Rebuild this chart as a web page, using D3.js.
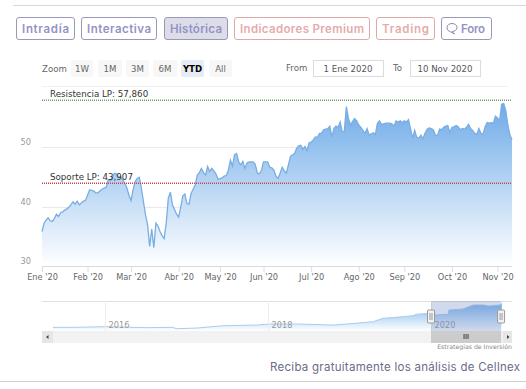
<!DOCTYPE html>
<html><head><meta charset="utf-8">
<script src="https://cdnjs.cloudflare.com/ajax/libs/d3/7.8.5/d3.min.js"></script>
<style>html,body{margin:0;padding:0;background:#fff}svg{display:block}</style>
</head><body><svg id="c" width="526" height="389"></svg>
<script>
// ---- data ----
const prices = [35.8,37.2,37.7,38.1,37.6,37.5,38.0,38.7,38.3,39.0,39.1,39.4,39.6,39.9,40.3,40.8,40.4,40.9,40.3,40.6,40.9,41.0,41.9,42.8,42.7,42.6,42.3,42.3,42.6,42.9,43.1,43.2,44.5,44.3,44.9,45.6,45.5,45.0,44.9,44.5,43.9,43.1,41.9,41.0,42.8,44.2,44.7,44.9,43.1,40.8,38.6,36.9,33.3,36.2,33.1,37.2,36.7,35.8,35.1,34.6,37.2,41.4,42.4,40.3,39.5,38.7,38.2,39.9,41.8,42.1,40.5,40.4,42.2,42.9,43.6,45.3,45.7,
46.4,45.7,45.3,46.7,45.9,46.4,46.0,45.5,44.6,44.7,44.8,45.1,45.2,46.1,47.8,46.8,48.7,48.9,47.5,47.0,47.6,46.4,47.3,47.5,47.5,47.5,47.1,45.6,45.5,46.1,47.5,47.5,47.5,46.6,46.5,46.1,45.1,44.7,45.6,46.6,46.0,45.6,47.0,48.4,48.7,48.9,49.8,50.2,50.3,49.6,50.1,49.4,50.7,50.8,51.2,51.7,51.6,52.3,52.3,52.9,53.0,53.1,53.5,51.7,53.1,53.5,53.3,54.2,52.6,52.6,56.8,54.8,53.7,54.3,54.8,54.4,53.7,53.3,
52.8,52.3,53.1,52.0,52.2,52.4,52.1,54.0,54.4,53.8,53.9,54.0,54.0,54.0,53.9,53.5,54.4,54.2,54.4,54.1,54.4,54.2,54.6,53.1,51.5,52.8,51.6,51.5,52.0,51.4,52.3,53.0,53.2,53.1,52.9,52.0,51.9,53.0,52.9,53.3,53.5,53.6,52.4,53.3,53.4,53.6,53.4,52.9,53.1,53.0,53.3,53.8,53.1,52.8,52.3,52.1,53.1,52.3,52.1,53.4,54.1,54.0,54.1,54.0,55.2,54.9,54.4,57.2,57.3,56.1,53.7,52.0,51.2];
const monthLabels = ["Ene '20","Feb '20","Mar '20","Abr '20","May '20","Jun '20","Jul '20","Ago '20","Sep '20","Oct '20","Nov '20"];
const monthStartIndex = [0,22,43,66,86,107,130,153,175,198,220];
const priceTicks = [30,40,50];
const resistance = 57.86, support = 43.907;
const resistanceLabel = "Resistencia LP: 57,860", supportLabel = "Soporte LP: 43,907";
const navYears = [2015.36,2015.63,2016.0,2016.52,2016.83,2016.88,2017.13,2017.45,2017.87,2018.02,2018.34,2018.8,2019.08,2019.29,2019.41,2019.57,2019.78,2019.82,2019.98,2020.0,2020.06,2020.21,2020.22,2020.39,2020.52,2020.64,2020.71,2020.85,2020.87];
const navValues = [12.0,12.0,13.2,11.4,12.0,9.4,10.7,15.0,16.3,18.2,18.2,16.3,19.5,22.5,28.8,30.7,33.7,36.3,38.1,40.0,35.0,36.3,44.3,46.0,53.6,53.6,51.7,53.6,56.7];
const navYearTicks = [2016,2018,2020];
const selection = [2020.0,2020.86];
const rangeButtons = ["1W","1M","3M","6M","YTD","All"];
const navTabs = ["Intradía","Interactiva","Histórica","Indicadores Premium","Trading","Foro"];

// ---- drawing ----
const svg = d3.select("#c");
const UI = "'DejaVu Sans',sans-serif";
const HEAD = "Inter,'Open Sans',sans-serif";
const x = d3.scaleLinear().domain([0,prices.length-1]).range([42,512]);
const y = d3.scaleLinear().domain([30,50]).range([266,147]);

const defs = svg.append("defs");
const grad = defs.append("linearGradient").attr("id","g").attr("x1",0).attr("y1",0).attr("x2",0).attr("y2",1);
grad.append("stop").attr("offset",0).attr("stop-color","#6fabe8");
grad.append("stop").attr("offset",1).attr("stop-color","#ffffff");
const grad2 = defs.append("linearGradient").attr("id","g2").attr("x1",0).attr("y1",0).attr("x2",0).attr("y2",1);
grad2.append("stop").attr("offset",0).attr("stop-color","#7cb5ec");
grad2.append("stop").attr("offset",1).attr("stop-color","#ffffff");

// page rules
svg.append("line").attr("x1",13).attr("x2",526).attr("y1",5.5).attr("y2",5.5).attr("stroke","#d8d8d8");
svg.append("line").attr("x1",0).attr("x2",526).attr("y1",381.5).attr("y2",381.5).attr("stroke","#cfcfd6");

// tabs
const tabBox = [[16,74],[81,156],[164,227],[234,369],[376,434],[441,491]];
const tabC = ["#9492c4","#9492c4","#9492c4","#e6abab","#e6abab","#9492c4"];
const tabB = ["#9a98b8","#9a98b8","#9a98b8","#e0a9a9","#e0a9a9","#9a98b8"];
navTabs.forEach((t,i)=>{
  const [a,b]=tabBox[i];
  svg.append("rect").attr("x",a+.5).attr("y",17.5).attr("width",b-a).attr("height",22).attr("rx",2.5)
    .attr("fill",i==2?"#dcdde9":"#fff").attr("stroke",tabB[i]);
  const tx = i==5 ? a+20 : a+6;
  const tw = i==5 ? 24 : b-a-11;
  svg.append("text").attr("x",tx).attr("y",33).attr("font-family",HEAD).attr("font-size",11.5).attr("font-weight",600)
    .attr("fill",tabC[i]).attr("textLength",tw).attr("lengthAdjust","spacing").text(t);
});
// speech bubble icon
svg.append("path").attr("d","M447 27.500c0-2.500 2.500-4 5-4s5 1.500 5 4-2.500 4-5 4l2.500 2.500-4-2.200c-2-.6-3.500-2-3.500-4.300z")
  .attr("fill","none").attr("stroke","#8a88ad").attr("stroke-width",1);

// range selector
svg.append("text").attr("x",42).attr("y",72).attr("font-family",UI).attr("font-size",8.6).attr("fill","#666").text("Zoom");
const rbX=[71,98,126,153,181,209];
const rbW=[22,24,23,24,23,23];
rangeButtons.forEach((t,i)=>{
  svg.append("rect").attr("x",rbX[i]).attr("y",60).attr("width",rbW[i]).attr("height",17).attr("rx",2)
    .attr("fill",t=="YTD"?"#e6ebf5":"#f7f7f7");
  svg.append("text").attr("x",rbX[i]+rbW[i]/2).attr("y",71.500).attr("text-anchor","middle").attr("font-family",UI)
    .attr("font-size",8.6).attr("font-weight",t=="YTD"?700:400).attr("fill",t=="YTD"?"#000":"#666").text(t);
});
svg.append("text").attr("x",286).attr("y",71).attr("font-family",UI).attr("font-size",8.6).attr("fill","#666").text("From");
svg.append("text").attr("x",393).attr("y",71).attr("font-family",UI).attr("font-size",8.6).attr("fill","#666").text("To");
[[313,383,"1 Ene 2020"],[410,480,"10 Nov 2020"]].forEach(([a,b,t])=>{
  svg.append("rect").attr("x",a+.5).attr("y",60.5).attr("width",b-a).attr("height",16).attr("fill","#fff").attr("stroke","#dcdcdc");
  svg.append("text").attr("x",(a+b)/2).attr("y",71.500).attr("text-anchor","middle").attr("font-family",UI).attr("font-size",8.6).attr("fill","#555").text(t);
});

// plot frame top
svg.append("line").attr("x1",42).attr("x2",508).attr("y1",86.5).attr("y2",86.5).attr("stroke","#f0f0f0");

// grid + y axis
const yAxis = d3.axisLeft(y).tickValues(priceTicks).tickSize(0).tickPadding(0);
const gy = svg.append("g").attr("transform","translate(31,-5)").call(yAxis);
gy.select(".domain").remove();
gy.selectAll("text").attr("font-family",UI).attr("font-size",8.2).attr("fill","#999").attr("dy","0.32em");
svg.append("g").selectAll("line").data(priceTicks.slice(1)).join("line")
  .attr("x1",42).attr("x2",512).attr("y1",d=>Math.round(y(d))+.5).attr("y2",d=>Math.round(y(d))+.5).attr("stroke","#e9e9e9");

// area + line
const area = d3.area().x((d,i)=>x(i)).y0(y(30)).y1(d=>y(d));
const line = d3.line().x((d,i)=>x(i)).y(d=>y(d));
svg.append("path").datum(prices).attr("d",area).attr("fill","url(#g)");
svg.append("path").datum(prices).attr("d",line).attr("fill","none").attr("stroke","#7aaee2").attr("stroke-width",1.3);

// x axis
const xAxis = d3.axisBottom(x).tickValues(monthStartIndex).tickSize(6).tickPadding(2)
  .tickFormat((d,i)=>monthLabels[i]);
const gx = svg.append("g").attr("transform","translate(0,266)").call(xAxis);
gx.select(".domain").attr("stroke","#d8d8e0").attr("d","M42,0.500H512");
gx.selectAll("line").attr("stroke","#dcdce4");
gx.selectAll("text").attr("font-family",UI).attr("font-size",8.2).attr("fill","#666");

// plot lines
[[resistance,"#6f9f73",resistanceLabel],[support,"#c8414c",supportLabel]].forEach(([v,c,t])=>{
  svg.append("line").attr("x1",42).attr("x2",512).attr("y1",y(v)).attr("y2",y(v))
    .attr("stroke",c).attr("stroke-dasharray","1 1").attr("stroke-width",1.4);
  svg.append("text").attr("x",50).attr("y",y(v)-3).attr("font-family",UI).attr("font-size",8.7).attr("fill","#333").text(t);
});

// navigator
const nx = d3.scaleLinear().domain([2016,2018]).range([105,268]);
const ny = d3.scaleLinear().domain([33.1,57.3]).range([316,303]);
svg.append("line").attr("x1",42).attr("x2",512).attr("y1",301.500).attr("y2",301.500).attr("stroke","#e0e0e0");
const nAxis = d3.axisTop(nx).tickValues(navYearTicks).tickSize(30).tickFormat(d3.format("d"));
const gn = svg.append("g").attr("transform","translate(0,331)").call(nAxis);
gn.select(".domain").remove();
gn.selectAll("line").attr("stroke","#ececec");
const navArea = d3.area().x((d,i)=>nx(navYears[i])).y0(331).y1(d=>ny(d));
const navLine = d3.line().x((d,i)=>nx(navYears[i])).y(d=>ny(d));
svg.append("path").datum(navValues).attr("d",navArea).attr("fill","url(#g2)");
svg.append("path").datum(navValues).attr("d",navLine).attr("fill","none").attr("stroke","#a9cdee").attr("stroke-width",1);
gn.raise();
gn.selectAll("text").attr("y",-3).attr("x",3).attr("text-anchor","start").attr("font-family",UI).attr("font-size",8.2).attr("fill","#999");
const sa=nx(selection[0]), sb=nx(selection[1]);
svg.append("rect").attr("x",sa).attr("y",301).attr("width",sb-sa).attr("height",30).attr("fill","#6685c2").attr("opacity",.3);
[sa,sb].forEach(h=>{
  svg.append("rect").attr("x",h-3.5).attr("y",310).attr("width",7).attr("height",13).attr("rx",1).attr("fill","#f2f2f2").attr("stroke","#999");
  [-1,1].forEach(o=>svg.append("line").attr("x1",h+o).attr("x2",h+o).attr("y1",313).attr("y2",320).attr("stroke","#999"));
});

// scrollbar
svg.append("rect").attr("x",42).attr("y",331).attr("width",470).attr("height",12).attr("fill","#f2f2f2");
svg.append("rect").attr("x",42).attr("y",331).attr("width",11).attr("height",12).attr("fill","#e6e6e6");
svg.append("rect").attr("x",sa).attr("y",331).attr("width",sb-sa).attr("height",12).attr("fill","#cccccc");
svg.append("rect").attr("x",503).attr("y",331).attr("width",9).attr("height",12).attr("fill","#e6e6e6");
svg.append("path").attr("d","M48.500 335l-2.500 2 2.500 2z").attr("fill","#444");
svg.append("path").attr("d","M507 335l2.500 2-2.500 2z").attr("fill","#444");
[-2,0,2].forEach(o=>svg.append("line").attr("x1",(sa+sb)/2+o).attr("x2",(sa+sb)/2+o).attr("y1",334).attr("y2",339).attr("stroke","#444"));

svg.append("text").attr("x",512).attr("y",349).attr("text-anchor","end").attr("font-family",UI).attr("font-size",6.2).attr("fill","#888").text("Estrategias de Inversión");
svg.append("text").attr("x",270).attr("y",371).attr("font-family",HEAD).attr("font-size",11.5).attr("fill","#6c6b88")
  .attr("textLength",250).attr("lengthAdjust","spacing").text("Reciba gratuitamente los análisis de Cellnex");
</script></body></html>
